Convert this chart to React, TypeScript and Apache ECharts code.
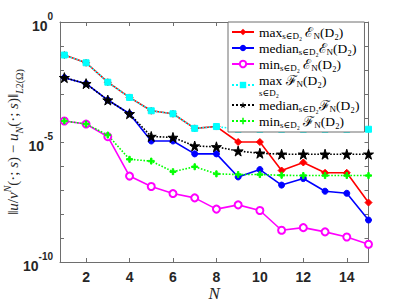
import React, { useEffect, useRef } from "react";
import * as echarts from "echarts";

const N = [1, 2, 3, 4, 5, 6, 7, 8, 9, 10, 11, 12, 13, 14, 15];
const maxE = [4.2e-2, 2.0e-2, 3.1e-3, 7.2e-4, 2.0e-4, 1.5e-4, 3.7e-5, 4.4e-5, 1.0e-5, 1.0e-5, 6.5e-7, 1.4e-6, 5.2e-7, 5.2e-7, 3.0e-8];
const medianE = [4.8e-3, 2.7e-3, 5.6e-4, 1.5e-4, 1.1e-5, 1.1e-5, 3.2e-6, 3.2e-6, 3.5e-7, 7.1e-7, 1.6e-7, 3.0e-7, 8.9e-8, 7.3e-8, 5.6e-9];
const minE = [7.5e-5, 5.6e-5, 1.66e-5, 3.8e-7, 1.4e-7, 7.1e-8, 4.7e-8, 1.6e-8, 2.4e-8, 1.4e-8, 2.1e-9, 2.7e-9, 1.8e-9, 1.1e-9, 5.5e-10];
const maxF = [4.2e-2, 2.0e-2, 3.1e-3, 7.2e-4, 2.0e-4, 1.5e-4, 3.7e-5, 4.4e-5, 3.4e-5, 3.4e-5, 3.4e-5, 3.4e-5, 3.4e-5, 3.4e-5, 3.4e-5];
const medianF = [4.8e-3, 2.7e-3, 5.6e-4, 1.5e-4, 1.7e-5, 1.55e-5, 6.8e-6, 6.3e-6, 4.2e-6, 3.4e-6, 3.1e-6, 3.1e-6, 3.1e-6, 3.1e-6, 3.1e-6];
const minF = [7.5e-5, 5.6e-5, 1.95e-5, 1.9e-6, 1.6e-6, 5.8e-7, 9.3e-7, 4.7e-7, 4.4e-7, 4.4e-7, 4.1e-7, 4.0e-7, 4.0e-7, 4.0e-7, 4.0e-7];

const xTicks = [2, 4, 6, 8, 10, 12, 14];
const yLabelExps = [0, -5, -10];

const STAR = "path://M50,0 L61,35 L98,35 L68,57 L79,91 L50,70 L21,91 L32,57 L2,35 L39,35 Z";
const PLUS = "path://M38,0H62V38H100V62H62V100H38V62H0V38H38Z";

const legendText: Record<string, string> = {
  maxE: "{t|max}{s|s∈D₂}{t| ℰ}{s|N}{t|(D₂)}",
  medianE: "{t|median}{s|s∈D₂}{t|ℰ}{s|N}{t|(D₂)}",
  minE: "{t|min}{s|s∈D₂}{t| ℰ}{s|N}{t|(D₂)}",
  maxF: "{t|max ℱ}{s|N}{t|(D₂)}\n{l|s∈D₂}",
  medianF: "{t|median}{s|s∈D₂}{t|ℱ}{s|N}{t|(D₂)}",
  minF: "{t|min}{s|s∈D₂}{t| ℱ}{s|N}{t|(D₂)}",
};

export default function App() {
  const ref = useRef<HTMLDivElement>(null);
  useEffect(() => {
    document.body.style.margin = "0";
    const chart = echarts.init(ref.current!, null, { renderer: "svg" });
    const serif = "Liberation Serif, DejaVu Serif, serif";
    const axisColor = "#6e6e6e";
    const txt = "#262626";
    const mk = (name: string, data: number[], color: string, type: string, symbol: string, size: number, extra: any = {}) => ({
      name,
      type: "line",
      data: N.map((n, i) => [n, data[i]]),
      symbol,
      symbolSize: size,
      showAllSymbol: true,
      lineStyle: { color, width: 1.6, type },
      itemStyle: { color, borderColor: color },
      ...extra,
    });
    const xCommon = {
      type: "value",
      min: 0.8,
      max: 15,
      splitLine: { show: false },
      axisLine: { lineStyle: { color: axisColor, width: 1 } },
      axisTick: { inside: true, length: 4, customValues: xTicks, lineStyle: { color: axisColor } },
    };
    const yCommon = {
      type: "log",
      logBase: 10,
      min: 1e-10,
      max: 1,
      interval: 1,
      splitNumber: 10,
      splitLine: { show: false },
      axisLine: { lineStyle: { color: axisColor, width: 1 } },
      axisTick: { inside: true, length: 4, lineStyle: { color: axisColor } },
    };
    chart.setOption({
      animation: false,
      grid: { left: 60, right: 38.5, top: 22, bottom: 43, outerBoundsMode: "none" },
      xAxis: [
        {
          ...xCommon,
          position: "bottom",
          name: "N",
          nameLocation: "middle",
          nameGap: 23,
          nameMoveOverlap: false,
          nameTextStyle: { fontFamily: serif, fontStyle: "italic", fontSize: 17, color: txt },
          axisLabel: {
            customValues: xTicks,
            margin: 8,
            fontFamily: "Liberation Sans",
            fontWeight: "bold",
            fontSize: 14,
            color: txt,
          },
        },
        { ...xCommon, position: "top", axisLabel: { show: false } },
      ],
      yAxis: [
        {
          ...yCommon,
          position: "left",
          name:
            "{n|‖}{i|u}{n|/}{i|v}{sup|N}{n|(·; }{i|s}{n|) − }{i|u}{sub|N}{n|(·; }{i|s}{n|)‖}{sub|L}{subn|2(Ω)}",
          nameLocation: "middle",
          nameGap: 36,
          nameMoveOverlap: false,
          nameTextStyle: {
            color: txt,
            rich: {
              n: { fontFamily: serif, fontSize: 15, lineHeight: 22, verticalAlign: "middle", color: txt },
              i: { fontFamily: serif, fontStyle: "italic", fontSize: 15, lineHeight: 22, verticalAlign: "middle", color: txt },
              sup: { fontFamily: serif, fontStyle: "italic", fontSize: 10, lineHeight: 11, verticalAlign: "top", color: txt },
              sub: { fontFamily: serif, fontStyle: "italic", fontSize: 10, lineHeight: 11, verticalAlign: "bottom", color: txt },
              subn: { fontFamily: serif, fontSize: 10, lineHeight: 11, verticalAlign: "bottom", color: txt },
            },
          },
          axisLabel: {
            margin: 7,
            formatter: (v: number) => {
              const e = Math.round(Math.log10(v));
              return yLabelExps.includes(e) ? `{z|\u200a}{b|10}{e|${e}}` : "";
            },
            rich: {
              z: { fontSize: 2, lineHeight: 21, verticalAlign: "middle" },
              b: { fontFamily: "Liberation Sans", fontWeight: "bold", fontSize: 14, lineHeight: 14, verticalAlign: "bottom", color: txt },
              e: { fontFamily: "Liberation Sans", fontWeight: "bold", fontSize: 10, lineHeight: 10, verticalAlign: "top", color: txt },
            },
          },
        },
        { ...yCommon, position: "right", axisLabel: { show: false } },
      ],
      legend: {
        orient: "vertical",
        left: 228,
        top: 22,
        padding: [3, 5, 3, 3],
        itemGap: 1,
        itemWidth: 22,
        itemHeight: 8,
        backgroundColor: "#ffffff",
        borderColor: "#6e6e6e",
        borderWidth: 1,
        borderRadius: 0,
        data: ["maxE", "medianE", "minE", "maxF", "medianF", "minF"],
        formatter: (name: string) => legendText[name],
        textStyle: {
          rich: {
            t: { fontFamily: serif, fontSize: 13.5, lineHeight: 16, verticalAlign: "middle", color: "#000" },
            s: { fontFamily: serif, fontSize: 9, lineHeight: 9, verticalAlign: "bottom", color: "#000" },
            l: { fontFamily: serif, fontSize: 9, lineHeight: 10, verticalAlign: "top", color: "#000" },
          },
        },
      },
      series: [
        mk("maxE", maxE, "#ff0000", "solid", "diamond", 7),
        mk("medianE", medianE, "#0000ff", "solid", "circle", 6),
        mk("minE", minE, "#ff00ff", "solid", "emptyCircle", 7, { itemStyle: { color: "#ff00ff", borderColor: "#ff00ff", borderWidth: 1.5 } }),
        mk("maxF", maxF, "#00ffff", "dotted", "rect", 6),
        mk("medianF", medianF, "#000000", "dotted", STAR, 10),
        mk("minF", minF, "#00ff00", "dotted", PLUS, 6),
      ],
    });
    return () => chart.dispose();
  }, []);
  return <div ref={ref} style={{ width: 407, height: 305 }} />;
}
